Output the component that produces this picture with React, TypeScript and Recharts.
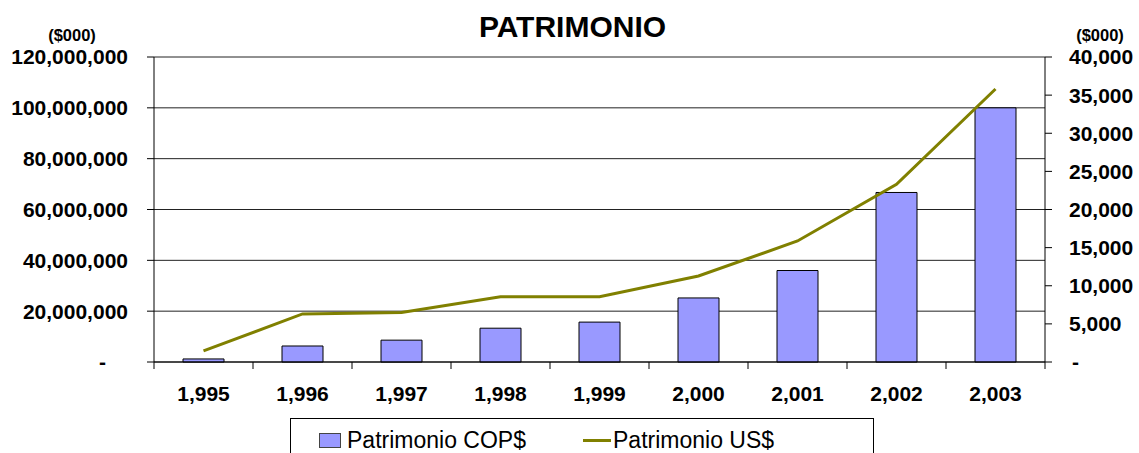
import {
  ComposedChart,
  Bar,
  Line,
  XAxis,
  YAxis,
  CartesianGrid,
} from "recharts";

const years = ["1,995", "1,996", "1,997", "1,998", "1,999", "2,000", "2,001", "2,002", "2,003"];
const patrimonioCop = [1200000, 6300000, 8600000, 13300000, 15700000, 25200000, 36000000, 66700000, 100000000];
const patrimonioUsd = [1450, 6300, 6500, 8560, 8560, 11280, 15870, 23300, 35800];
const leftTicks = [0, 20000000, 40000000, 60000000, 80000000, 100000000, 120000000];
const rightTicks = [0, 5000, 10000, 15000, 20000, 25000, 30000, 35000, 40000];
const seriesNames = ["Patrimonio COP$", "Patrimonio US$"];

const data = years.map((year, i) => ({
  year,
  idx: i,
  cop: patrimonioCop[i],
  usd: patrimonioUsd[i],
}));

// tick marks sit between categories, not under them
const edgeTicks = [...years.map((_, i) => i - 0.5), years.length - 0.5];

const FONT = "'Liberation Sans', Arial, sans-serif";
const BAR_FILL = "#9999FF";
const LINE_COLOR = "#808000";
const TICK_SIZE = 21;

const fmt = (v: number) => (v === 0 ? "-" : v.toLocaleString("en-US"));

const LeftTick = (props: any) => {
  const { x, y, payload } = props;
  const zero = payload.value === 0;
  return (
    <text
      x={zero ? x - 22 : x}
      y={y}
      dy="0.355em"
      textAnchor="end"
      fontFamily={FONT}
      fontWeight="bold"
      fontSize={TICK_SIZE}
      fill="#000"
    >
      {fmt(payload.value)}
    </text>
  );
};

const RightTick = (props: any) => {
  const { x, y, payload } = props;
  const zero = payload.value === 0;
  return (
    <text
      x={zero ? x + 3 : x}
      y={y}
      dy="0.355em"
      textAnchor="start"
      fontFamily={FONT}
      fontWeight="bold"
      fontSize={TICK_SIZE}
      fill="#000"
    >
      {fmt(payload.value)}
    </text>
  );
};

const App = () => {
  return (
    <div style={{ position: "absolute", left: 0, top: 0, width: 1139, height: 453, background: "#fff", fontFamily: FONT }}>
      <div
        style={{
          position: "absolute",
          left: 0,
          width: 1145,
          top: 9,
          textAlign: "center",
          fontSize: 30,
          fontWeight: "bold",
          lineHeight: "36px",
        }}
      >
        PATRIMONIO
      </div>
      <div style={{ position: "absolute", left: 32, width: 80, top: 26, textAlign: "center", fontSize: 16.5, fontWeight: "bold" }}>
        ($000)
      </div>
      <div style={{ position: "absolute", left: 1060, width: 80, top: 26, textAlign: "center", fontSize: 16.5, fontWeight: "bold" }}>
        ($000)
      </div>

      <ComposedChart
        width={1139}
        height={453}
        data={data}
        margin={{ top: 57, right: 0, bottom: 43, left: 0 }}
        barSize={41}
      >
        <CartesianGrid
          xAxisId="axisB"
          yAxisId="left"
          vertical={false}
          stroke="#222"
          strokeWidth={1}
        />

        <XAxis
          xAxisId="axisB"
          dataKey="year"
          interval={0}
          height={40}
          axisLine={false}
          tickLine={false}
          tickMargin={10}
          tick={{ fill: "#000", fontSize: TICK_SIZE, fontWeight: "bold", fontFamily: FONT }}
        />
        {/* boundary tick marks */}
        <XAxis
          xAxisId="axisA"
          type="number"
          dataKey="idx"
          domain={[-0.5, years.length - 0.5]}
          allowDataOverflow
          ticks={edgeTicks}
          interval={0}
          tickFormatter={() => ""}
          tickSize={7}
          height={8}
          stroke="#000"
          axisLine={{ stroke: "#000" }}
          tickLine={{ stroke: "#000" }}
        />

        <YAxis
          yAxisId="left"
          width={154}
          domain={[0, 120000000]}
          ticks={leftTicks}
          interval={0}
          tickSize={7}
          tickMargin={19}
          axisLine={{ stroke: "#000" }}
          tickLine={{ stroke: "#000" }}
          tick={<LeftTick />}
        />
        <YAxis
          yAxisId="right"
          orientation="right"
          width={94}
          domain={[0, 40000]}
          ticks={rightTicks}
          interval={0}
          tickSize={7}
          tickMargin={17}
          axisLine={{ stroke: "#000" }}
          tickLine={{ stroke: "#000" }}
          tick={<RightTick />}
        />

        <Bar
          xAxisId="axisB"
          yAxisId="left"
          dataKey="cop"
          name={seriesNames[0]}
          fill={BAR_FILL}
          stroke="#000"
          strokeWidth={1}
          isAnimationActive={false}
        />
        <Line
          xAxisId="axisB"
          yAxisId="right"
          dataKey="usd"
          name={seriesNames[1]}
          type="linear"
          stroke={LINE_COLOR}
          strokeWidth={3}
          dot={false}
          activeDot={false}
          isAnimationActive={false}
        />
      </ComposedChart>

      {/* legend */}
      <div
        style={{
          position: "absolute",
          left: 290,
          top: 418,
          width: 584,
          height: 50,
          border: "1px solid #000",
          boxSizing: "border-box",
          fontSize: 23,
        }}
      >
        <div style={{ position: "absolute", left: 28, top: 14, width: 22, height: 15, background: BAR_FILL, border: "1px solid #444", boxSizing: "border-box" }} />
        <div style={{ position: "absolute", left: 56, top: 7, lineHeight: "28px", whiteSpace: "nowrap" }}>{seriesNames[0]}</div>
        <div style={{ position: "absolute", left: 292, top: 20, width: 28, height: 3, background: LINE_COLOR }} />
        <div style={{ position: "absolute", left: 322, top: 7, lineHeight: "28px", whiteSpace: "nowrap" }}>{seriesNames[1]}</div>
      </div>
    </div>
  );
};

export default App;
